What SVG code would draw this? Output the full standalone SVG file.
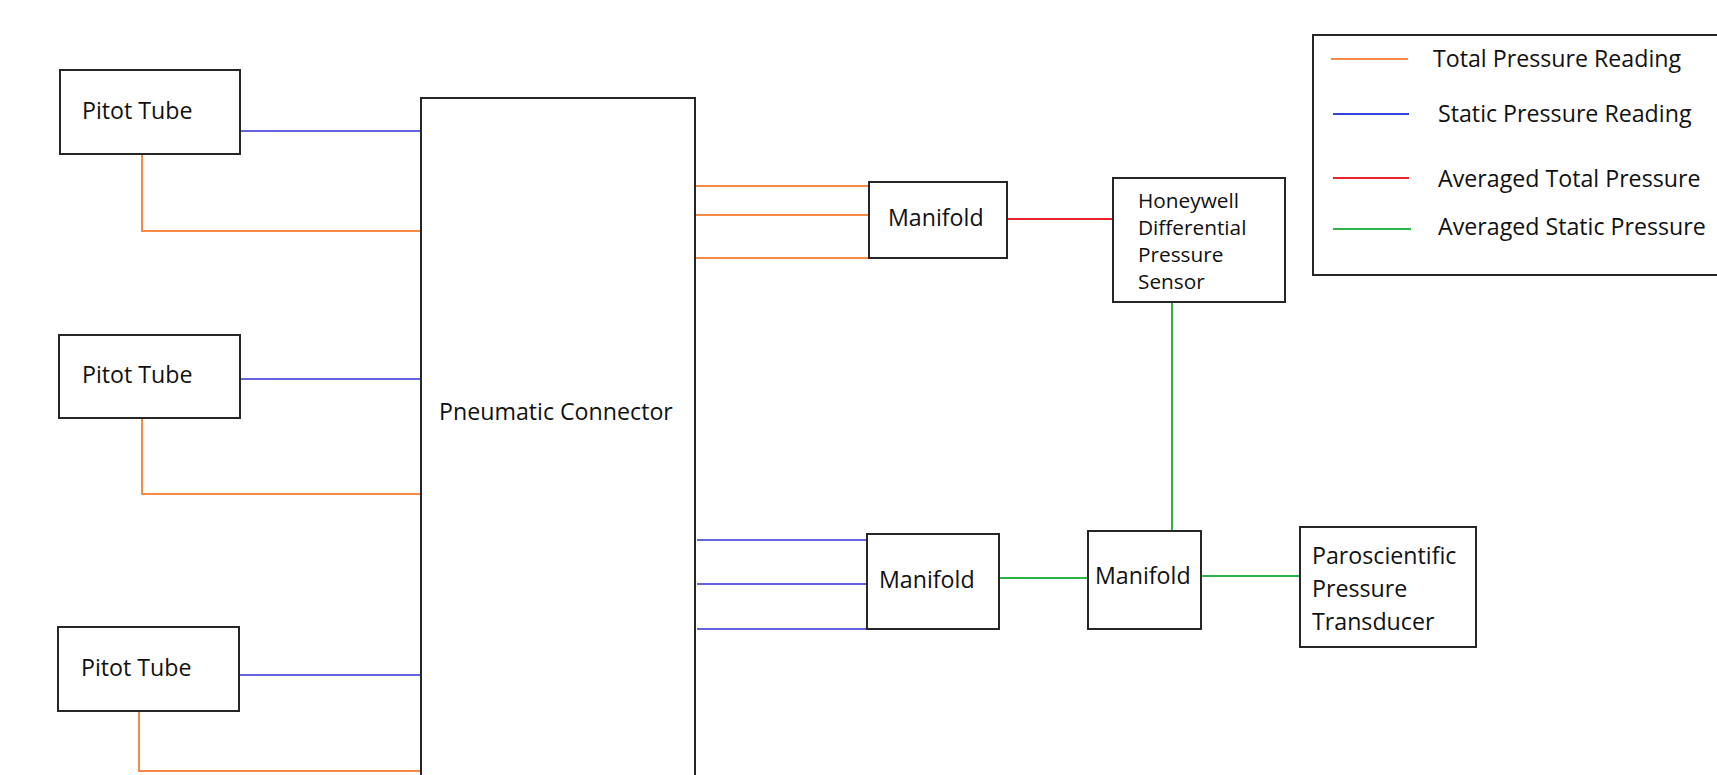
<svg xmlns="http://www.w3.org/2000/svg" width="1717" height="775" viewBox="0 0 1717 775">
<style>
.box{fill:#fff;stroke:#262626;stroke-width:2}
.t{font-family:"Open Sans","Liberation Sans",sans-serif;font-size:23.2px;fill:#111}
.ts{font-family:"Open Sans","Liberation Sans",sans-serif;font-size:20.8px;fill:#111}
.o{stroke:#F58B45;stroke-width:2;fill:none}
.b{stroke:#6464E0;stroke-width:2;fill:none}
.r{stroke:#E8232D;stroke-width:2;fill:none}
.g{stroke:#2DB34A;stroke-width:2;fill:none}
</style>
<rect width="1717" height="775" fill="#fff"/>
<g id="connectors">
<polyline class="b" points="240,131 421,131"/>
<polyline class="o" points="142,154 142,231 421,231"/>
<polyline class="b" points="240,379 421,379"/>
<polyline class="o" points="142,418 142,494 421,494"/>
<polyline class="b" points="239,675 421,675"/>
<polyline class="o" points="139,711 139,771 421,771"/>
<line class="o" x1="695" y1="186" x2="869" y2="186"/>
<line class="o" x1="695" y1="215" x2="869" y2="215"/>
<line class="o" x1="695" y1="258" x2="869" y2="258"/>
<line class="r" x1="1007" y1="219" x2="1113" y2="219"/>
<line class="b" x1="697" y1="540" x2="867" y2="540"/>
<line class="b" x1="697" y1="584" x2="867" y2="584"/>
<line class="b" x1="697" y1="629" x2="867" y2="629"/>
<line class="g" x1="999" y1="578" x2="1088" y2="578"/>
<line class="g" x1="1172" y1="302" x2="1172" y2="531"/>
<line class="g" x1="1201" y1="576" x2="1300" y2="576"/>
</g>
<g id="pitot1"><rect class="box" x="60" y="70" width="180" height="84"/><text class="t" x="82" y="119">Pitot Tube</text></g>
<g id="pitot2"><rect class="box" x="59" y="335" width="181" height="83"/><text class="t" x="82" y="383">Pitot Tube</text></g>
<g id="pitot3"><rect class="box" x="58" y="627" width="181" height="84"/><text class="t" x="81" y="676">Pitot Tube</text></g>
<g id="pneumatic"><rect class="box" x="421" y="98" width="274" height="700"/><text class="t" x="439" y="420">Pneumatic Connector</text></g>
<g id="manifold1"><rect class="box" x="869" y="182" width="138" height="76"/><text class="t" x="888" y="226">Manifold</text></g>
<g id="honeywell"><rect class="box" x="1113" y="178" width="172" height="124"/>
<text class="ts" x="1138" y="208">Honeywell</text>
<text class="ts" x="1138" y="235">Differential</text>
<text class="ts" x="1138" y="262">Pressure</text>
<text class="ts" x="1138" y="289">Sensor</text></g>
<g id="manifold2"><rect class="box" x="867" y="534" width="132" height="95"/><text class="t" x="879" y="588">Manifold</text></g>
<g id="manifold3"><rect class="box" x="1088" y="531" width="113" height="98"/><text class="t" x="1095" y="584">Manifold</text></g>
<g id="paroscientific"><rect class="box" x="1300" y="527" width="176" height="120"/>
<text class="t" x="1312" y="564">Paroscientific</text>
<text class="t" x="1312" y="597">Pressure</text>
<text class="t" x="1312" y="630">Transducer</text></g>
<g id="legend"><rect class="box" x="1313" y="35" width="410" height="240"/>
<line class="o" x1="1331" y1="59" x2="1408" y2="59"/>
<line x1="1333" y1="114" x2="1409" y2="114" stroke="#3344DD" stroke-width="2"/>
<line class="r" x1="1333" y1="178" x2="1409" y2="178"/>
<line class="g" x1="1333" y1="229" x2="1411" y2="229"/>
<text class="t" x="1433" y="67">Total Pressure Reading</text>
<text class="t" x="1438" y="122">Static Pressure Reading</text>
<text class="t" x="1438" y="187">Averaged Total Pressure</text>
<text class="t" x="1438" y="235">Averaged Static Pressure</text></g>
</svg>
